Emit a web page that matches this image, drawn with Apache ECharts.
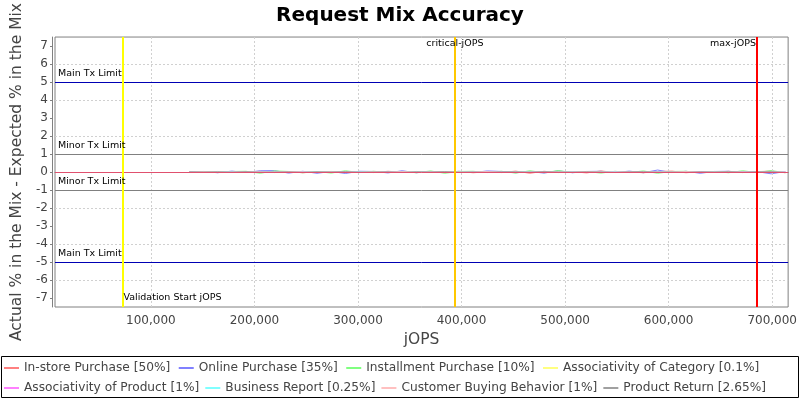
<!DOCTYPE html>
<html>
<head>
<meta charset="utf-8">
<title>Request Mix Accuracy</title>
<script src="https://cdn.jsdelivr.net/npm/echarts@6/dist/echarts.min.js"></script>
<style>
  html, body { margin: 0; padding: 0; background: #fff; }
  #chart { width: 800px; height: 400px; }
</style>
</head>
<body>
<div id="chart"></div>
<script>
// RT curve steps (jOPS), every 2% of max-jOPS
var jops = [137060, 150766, 164472, 178178, 191884, 205590, 219296, 233002, 246708, 260414,
  274120, 287826, 301532, 315238, 328944, 342650, 356356, 370062, 383768, 397474,
  411180, 424886, 438592, 452298, 466004, 479710, 493416, 507122, 520828, 534534,
  548240, 561946, 575652, 589358, 603064, 616770, 630476, 644182, 657888, 671594,
  685300, 699006, 712712];

var seriesNames = ['In-store Purchase [50%]', 'Online Purchase [35%]', 'Installment Purchase [10%]',
  'Associativity of Category [0.1%]', 'Associativity of Product [1%]', 'Business Report [0.25%]',
  'Customer Buying Behavior [1%]', 'Product Return [2.65%]'];
var seriesColors = ['#ff8080', '#8080ff', '#80ff80', '#ffff80', '#ff80ff', '#80ffff', '#ffc0c0', '#a0a0a0'];

// actual % - expected %
var inStore = [0.01, -0.02, 0.03, -0.02, 0.01, 0.04, -0.03, 0.02, -0.04, 0.01, 0.03, -0.02, 0.01, -0.03, 0.04,
  -0.01, 0.03, -0.02, 0.01, 0.03, -0.04, 0.01, -0.03, 0.05, -0.07, 0.04, -0.03, 0.02, -0.05, 0.06,
  -0.03, 0.01, -0.04, 0.03, 0.05, -0.04, 0.02, -0.01, 0.04, -0.03, 0.02, 0.05, -0.04];
var online = [0.00, 0.03, -0.04, 0.05, -0.03, 0.07, 0.08, -0.06, 0.04, -0.07, 0.03, -0.08, 0.04, 0.03, -0.05,
  0.07, -0.04, 0.03, -0.03, 0.04, -0.03, 0.06, 0.03, -0.04, 0.03, -0.06, 0.07, -0.04, 0.03, 0.04,
  -0.03, 0.05, -0.04, 0.11, -0.03, 0.04, -0.07, 0.03, 0.04, -0.03, 0.02, -0.10, 0.03];
var installment = [-0.01, 0.02, -0.03, 0.03, 0.04, -0.07, 0.06, 0.03, -0.04, 0.03, -0.06, 0.07, -0.03, 0.04, -0.02,
  0.03, -0.04, 0.06, -0.07, 0.03, 0.04, -0.03, 0.04, -0.06, 0.07, -0.04, 0.08, -0.03, 0.03, -0.06,
  0.04, -0.03, 0.06, -0.07, 0.03, 0.04, -0.03, 0.03, -0.04, 0.07, -0.03, 0.08, -0.04];
var assocCategory = [0.00, 0.01, 0.00, -0.01, 0.00, 0.01, 0.00, 0.00, -0.01, 0.00, 0.01, 0.00, -0.01, 0.00, 0.00,
  0.01, 0.00, -0.01, 0.00, 0.01, 0.00, 0.00, -0.01, 0.00, 0.01, 0.00, -0.01, 0.00, 0.01, 0.00,
  0.00, -0.01, 0.00, 0.01, 0.00, -0.01, 0.00, 0.00, 0.01, 0.00, -0.01, 0.00, 0.01];
var assocProduct = [0.01, 0.00, -0.02, 0.01, 0.00, 0.02, -0.01, 0.00, 0.01, -0.02, 0.00, 0.01, 0.00, -0.01, 0.02,
  0.00, -0.01, 0.01, 0.00, -0.02, 0.01, 0.00, 0.02, -0.01, 0.00, 0.01, -0.02, 0.01, 0.00, -0.01,
  0.02, 0.00, -0.01, 0.01, -0.02, 0.00, 0.01, 0.00, -0.01, 0.02, 0.00, -0.01, 0.01];
var businessReport = [0.00, -0.01, 0.01, 0.00, -0.01, 0.00, 0.01, -0.01, 0.00, 0.01, 0.00, -0.01, 0.01, 0.00, -0.01,
  0.00, 0.01, 0.00, -0.01, 0.00, 0.01, -0.01, 0.00, 0.01, 0.00, -0.01, 0.00, 0.01, -0.01, 0.00,
  0.01, 0.00, -0.01, 0.00, 0.01, 0.00, -0.01, 0.01, 0.00, -0.01, 0.00, 0.01, -0.01];
var customerBuying = [-0.01, 0.01, 0.00, -0.02, 0.01, 0.00, -0.01, 0.02, 0.00, -0.01, 0.01, 0.00, -0.02, 0.01, 0.00,
  0.02, -0.01, 0.00, 0.01, -0.01, 0.00, 0.02, -0.01, 0.00, -0.03, 0.01, 0.00, -0.01, 0.02, 0.00,
  -0.01, 0.01, 0.00, -0.02, 0.01, 0.02, -0.01, 0.00, 0.01, -0.01, 0.00, 0.01, -0.02];
var productReturn = [0.01, 0.00, 0.01, -0.01, 0.02, -0.01, 0.00, 0.01, -0.02, 0.01, 0.00, 0.02, -0.01, 0.00, 0.01,
  -0.02, 0.01, 0.00, 0.02, -0.01, 0.00, -0.02, 0.01, 0.01, -0.01, 0.02, 0.00, -0.01, 0.01, 0.00,
  -0.02, 0.01, 0.02, -0.01, 0.00, -0.02, 0.01, 0.00, 0.02, -0.01, 0.01, 0.02, -0.02];
var seriesValues = [inStore, online, installment, assocCategory, assocProduct, businessReport, customerBuying, productReturn];

// limits and markers
var mainLimits = [5, -5];
var minorLimits = [1, -1];
var validationStart = 72500;
var criticalJops = 393600;
var maxJops = 685300;

var xTicks = [100000, 200000, 300000, 400000, 500000, 600000, 700000];
var yTicks = [-7, -6, -5, -4, -3, -2, -1, 0, 1, 2, 3, 4, 5, 6, 7];

var FONT = 'DejaVu Sans';

var chart = echarts.init(document.getElementById('chart'), null, { renderer: 'canvas' });

var series = [];
for (var s = 0; s < seriesNames.length; s++) {
  var pts = [];
  for (var i = 0; i < jops.length; i++) pts.push([jops[i], seriesValues[s][i]]);
  series.push({
    name: seriesNames[s],
    type: 'line',
    data: pts,
    showSymbol: false,
    symbol: 'none',
    color: seriesColors[s],
    lineStyle: { width: 1, color: seriesColors[s] },
    z: 3,
    animation: false
  });
}

// vertical grid lines at the x ticks
var gridData = [];
for (var g = 0; g < xTicks.length; g++) {
  gridData.push({ xAxis: xTicks[g], lineStyle: { color: '#d0d0d0', width: 1, type: [2, 2] }, label: { show: false } });
}
series.push({
  name: 'xgrid',
  type: 'line',
  data: [],
  silent: true,
  z: 1,
  animation: false,
  markLine: { silent: true, symbol: ['none', 'none'], animation: false, data: gridData }
});

var hLine = function(v, name, color) {
  return {
    yAxis: v,
    lineStyle: { color: color, width: 1, type: 'solid' },
    label: { show: true, position: 'insideStartTop', formatter: name, color: '#000',
      fontFamily: FONT, fontSize: 9.5, distance: [3, 3] }
  };
};
var vLine = function(v, color) {
  return { xAxis: v, lineStyle: { color: color, width: 2, type: 'solid' }, label: { show: false } };
};
var markData = [];
markData.push({ yAxis: 0, lineStyle: { color: '#e0506e', width: 1, type: 'solid' }, label: { show: false } });
for (var m = 0; m < mainLimits.length; m++) markData.push(hLine(mainLimits[m], 'Main Tx Limit', '#0000b4'));
for (var n = 0; n < minorLimits.length; n++) markData.push(hLine(minorLimits[n], 'Minor Tx Limit', '#808080'));
markData.push(vLine(validationStart, '#ffff00'));
markData.push(vLine(criticalJops, '#ffc800'));
markData.push(vLine(maxJops, '#ff0000'));

var ptLabel = function(x, y, name, pos) {
  return {
    coord: [x, y], symbol: 'rect', symbolSize: 0.1,
    itemStyle: { color: 'rgba(0,0,0,0)' },
    label: { show: true, position: pos, distance: 1, formatter: name, color: '#000', fontFamily: FONT, fontSize: 9.5 }
  };
};

series.push({
  name: 'markers',
  type: 'line',
  data: [],
  silent: true,
  z: 2,
  animation: false,
  markLine: {
    silent: true,
    symbol: ['none', 'none'],
    animation: false,
    data: markData
  },
  markPoint: {
    silent: true,
    animation: false,
    data: [
      ptLabel(validationStart, -7.0, 'Validation Start jOPS', 'right'),
      ptLabel(criticalJops, 7.15, 'critical-jOPS', 'inside'),
      ptLabel(maxJops, 7.15, 'max-jOPS', 'left')
    ]
  }
});

var option = {
  backgroundColor: '#fff',
  animation: false,
  title: {
    text: 'Request Mix Accuracy',
    left: 'center',
    top: 1,
    textStyle: { fontFamily: FONT, fontSize: 20, fontWeight: 'bold', color: '#000' }
  },
  grid: {
    left: 55, right: 11, top: 34, bottom: 93,
    show: true, borderColor: '#808080', borderWidth: 1, backgroundColor: '#fff'
  },
  legend: [{
    data: seriesNames.slice(0, 4),
    left: 4, top: 361, padding: 0, itemGap: 8.5,
    itemWidth: 15, itemHeight: 2, icon: 'rect',
    textStyle: { fontFamily: FONT, fontSize: 12.2, color: '#444', lineHeight: 14 }
  }, {
    data: seriesNames.slice(4),
    left: 4, top: 381, padding: 0, itemGap: 6,
    itemWidth: 15, itemHeight: 2, icon: 'rect',
    textStyle: { fontFamily: FONT, fontSize: 12.2, color: '#444', lineHeight: 14 }
  }],
  graphic: [{
    type: 'rect',
    shape: { x: 1.5, y: 356.5, width: 797, height: 41 },
    style: { fill: 'none', stroke: '#000', lineWidth: 1 },
    silent: true
  }],
  xAxis: {
    type: 'value',
    min: 7400,
    max: 715400,
    offset: 4,
    name: 'jOPS',
    nameLocation: 'middle',
    nameGap: 21,
    nameTextStyle: { fontFamily: FONT, fontSize: 15.5, color: '#444' },
    axisLine: { show: true, lineStyle: { color: '#808080' } },
    axisTick: { show: true, length: 2, customValues: xTicks, lineStyle: { color: '#808080' } },
    axisLabel: {
      customValues: xTicks, margin: 4,
      fontFamily: FONT, fontSize: 12, color: '#444',
      formatter: function(v) { return echarts.format.addCommas(v); }
    },
    splitLine: { show: false }
  },
  yAxis: {
    type: 'value',
    min: -7.5,
    max: 7.5,
    interval: 0.5,
    offset: 3,
    name: 'Actual % in the Mix - Expected % in the Mix',
    nameLocation: 'middle',
    nameGap: 25,
    nameTextStyle: { fontFamily: FONT, fontSize: 15.5, color: '#444' },
    axisLine: { show: true, lineStyle: { color: '#808080' } },
    axisTick: { show: true, length: 2, customValues: yTicks, lineStyle: { color: '#808080' } },
    axisLabel: {
      customValues: yTicks, margin: 4,
      fontFamily: FONT, fontSize: 12, color: '#444',
      formatter: function(v) { return Math.round(v) === v ? String(v) : ''; }
    },
    splitLine: { show: true, lineStyle: { color: ['rgba(0,0,0,0)', '#d0d0d0'], type: [2, 2], width: 1 } }
  },
  series: series
};

chart.setOption(option);
</script>
</body>
</html>
